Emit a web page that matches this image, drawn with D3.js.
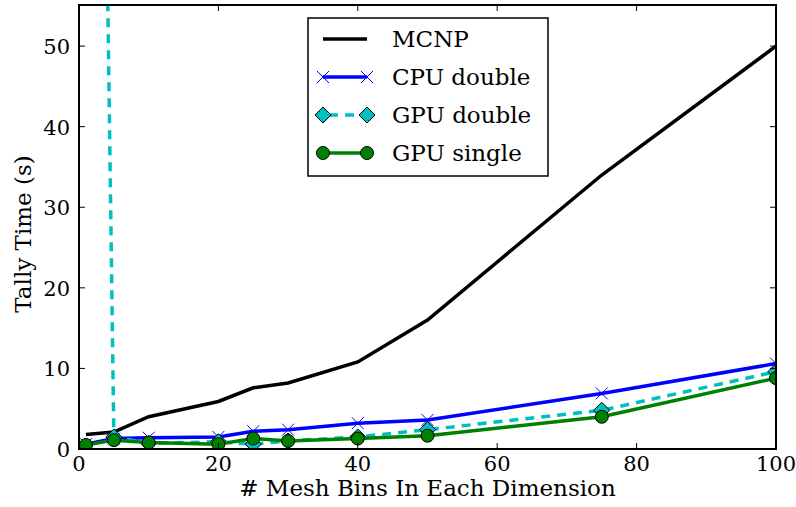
<!DOCTYPE html>
<html>
<head>
<meta charset="utf-8">
<script src="https://cdn.jsdelivr.net/npm/d3@7"></script>
<style>
  body { margin: 0; background: #fff; }
  text { font-family: "DejaVu Serif", "Liberation Serif", serif; fill: #000; }
</style>
</head>
<body>
<svg id="chart" width="796" height="507"></svg>
<script>
// mesh bins per dimension
var bins = [1, 5, 10, 20, 25, 30, 40, 50, 75, 100];

// tally times (s)
var mcnp      = [1.8, 2.1, 4.0, 5.9, 7.6, 8.2, 10.8, 16.0, 34.0, 50.0];
var cpuDouble = [0.6, 1.3, 1.4, 1.5, 2.2, 2.4, 3.2, 3.6, 6.9, 10.6];
var gpuDouble = [250, 1.5, 0.7, 0.9, 0.6, 1.0, 1.5, 2.4, 4.8, 9.6];
var gpuSingle = [0.5, 1.1, 0.8, 0.6, 1.3, 1.0, 1.3, 1.65, 4.0, 8.8];

var xTicks = [0, 20, 40, 60, 80, 100];
var yTicks = [0, 10, 20, 30, 40, 50];

var series = [
  { name: "MCNP", values: mcnp, color: "#000000", marker: "none", dash: null },
  { name: "CPU double", values: cpuDouble, color: "#0000ff", marker: "x", dash: null },
  { name: "GPU double", values: gpuDouble, color: "#00bfbf", marker: "diamond", dash: "9,7" },
  { name: "GPU single", values: gpuSingle, color: "#008000", marker: "circle", dash: null }
];

var margin = { left: 79, right: 20, top: 5, bottom: 58 };
var width = 796, height = 507;
var fs = 23;      // labels / legend
var tickFs = 21;  // tick labels

var svg = d3.select("#chart");

var x = d3.scaleLinear().domain([0, 100]).range([margin.left, width - margin.right]);
var y = d3.scaleLinear().domain([0, 55.1]).range([height - margin.bottom, margin.top]);

svg.append("clipPath").attr("id", "plotclip")
  .append("rect")
  .attr("x", x(0)).attr("y", y(55.1))
  .attr("width", x(100) - x(0)).attr("height", y(0) - y(55.1));

var plot = svg.append("g").attr("clip-path", "url(#plotclip)");

var line = d3.line()
  .x(function(d) { return x(d[0]); })
  .y(function(d) { return y(d[1]); });

function drawMarker(g, type, color, cx, cy) {
  if (type == "x") {
    var s = 6;
    g.append("path")
      .attr("d", "M" + (cx - s) + "," + (cy - s) + "L" + (cx + s) + "," + (cy + s) +
                 "M" + (cx - s) + "," + (cy + s) + "L" + (cx + s) + "," + (cy - s))
      .attr("stroke", color).attr("stroke-width", 1).attr("fill", "none");
  } else if (type == "diamond") {
    var r = 8;
    g.append("path")
      .attr("d", "M" + cx + "," + (cy - r) + "L" + (cx + r) + "," + cy + "L" + cx + "," + (cy + r) + "L" + (cx - r) + "," + cy + "Z")
      .attr("fill", color).attr("stroke", "#000").attr("stroke-width", 1);
  } else if (type == "circle") {
    g.append("circle")
      .attr("cx", cx).attr("cy", cy).attr("r", 6.5)
      .attr("fill", color).attr("stroke", "#000").attr("stroke-width", 1);
  }
}

series.forEach(function(s) {
  var pts = bins.map(function(b, i) { return [b, s.values[i]]; });
  var g = plot.append("g");
  g.append("path")
    .datum(pts)
    .attr("d", line)
    .attr("fill", "none")
    .attr("stroke", s.color)
    .attr("stroke-width", 3.5)
    .attr("stroke-dasharray", s.dash);
  pts.forEach(function(p) {
    drawMarker(g, s.marker, s.color, x(p[0]), y(p[1]));
  });
});

// frame
svg.append("rect")
  .attr("x", x(0)).attr("y", y(55.1))
  .attr("width", x(100) - x(0)).attr("height", y(0) - y(55.1))
  .attr("fill", "none").attr("stroke", "#000").attr("stroke-width", 2);

// ticks inside, on all four sides
var tl = 6;
xTicks.forEach(function(t) {
  svg.append("line").attr("x1", x(t)).attr("x2", x(t)).attr("y1", y(0)).attr("y2", y(0) - tl)
    .attr("stroke", "#000").attr("stroke-width", 1);
  svg.append("line").attr("x1", x(t)).attr("x2", x(t)).attr("y1", y(55.1)).attr("y2", y(55.1) + tl)
    .attr("stroke", "#000").attr("stroke-width", 1);
  svg.append("text").attr("x", x(t)).attr("y", y(0) + 22)
    .attr("text-anchor", "middle").attr("font-size", tickFs).text(t);
});
yTicks.forEach(function(t) {
  svg.append("line").attr("x1", x(0)).attr("x2", x(0) + tl).attr("y1", y(t)).attr("y2", y(t))
    .attr("stroke", "#000").attr("stroke-width", 1);
  svg.append("line").attr("x1", x(100)).attr("x2", x(100) - tl).attr("y1", y(t)).attr("y2", y(t))
    .attr("stroke", "#000").attr("stroke-width", 1);
  svg.append("text").attr("x", x(0) - 9).attr("y", y(t) + 8)
    .attr("text-anchor", "end").attr("font-size", tickFs).text(t);
});

svg.append("text")
  .attr("x", (x(0) + x(100)) / 2).attr("y", 496)
  .attr("text-anchor", "middle").attr("font-size", fs)
  .text("# Mesh Bins In Each Dimension");

svg.append("text")
  .attr("transform", "translate(31,234) rotate(-90)")
  .attr("text-anchor", "middle").attr("font-size", fs)
  .text("Tally Time (s)");

// legend
var legend = svg.append("g");
legend.append("rect")
  .attr("x", 308).attr("y", 18).attr("width", 240).attr("height", 158)
  .attr("fill", "#fff").attr("stroke", "#000").attr("stroke-width", 1.5);

series.forEach(function(s, i) {
  var ly = 39 + i * 38;
  legend.append("line")
    .attr("x1", 323).attr("x2", 367).attr("y1", ly).attr("y2", ly)
    .attr("stroke", s.color).attr("stroke-width", 3.5)
    .attr("stroke-dasharray", s.dash ? "9,7" : null)
    .attr("stroke-dashoffset", s.dash ? -6 : null);
  if (s.marker != "none") {
    drawMarker(legend, s.marker, s.color, 323, ly);
    drawMarker(legend, s.marker, s.color, 367, ly);
  }
  legend.append("text")
    .attr("x", 392).attr("y", ly + 8)
    .attr("font-size", fs).text(s.name);
});
</script>
</body>
</html>
